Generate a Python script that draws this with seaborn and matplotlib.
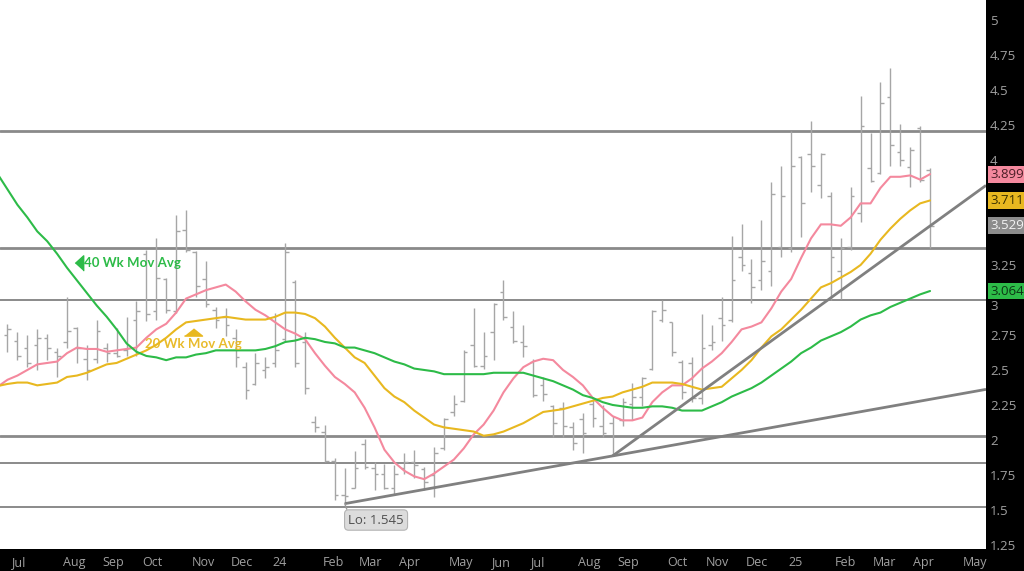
import numpy as np
import pandas as pd
import matplotlib
matplotlib.use("Agg")
import matplotlib.pyplot as plt
import seaborn as sns
from matplotlib import font_manager

# ---- weekly natural gas bars (week index 0 = week of 2023-06-26) ----
opens = [2.75, 2.71, 2.66, 2.68, 2.73, 2.63, 2.70, 2.80, 2.58, 2.58,
         2.66, 2.62, 2.64, 2.86, 3.33, 2.92, 3.15, 2.92, 3.50, 3.34,
         3.15, 2.93, 2.88, 2.73, 2.52, 2.40, 2.50, 2.55, 2.72, 3.13,
         2.70, 2.13, 2.06, 1.85, 1.61, 1.66, 1.97, 1.80, 1.76, 1.66,
         1.80, 1.84, 1.79, 1.75, 1.94, 2.20, 2.28, 2.68, 2.53, 2.77,
         3.06, 2.81, 2.70, 2.56, 2.39, 2.24, 2.23, 2.09, 2.15, 2.26,
         2.10, 2.12, 2.14, 2.26, 2.31, 2.51, 2.86, 2.84, 2.56, 2.55,
         2.30, 2.68, 2.87, 2.86, 3.31, 3.19, 3.14, 3.21, 3.38, 3.37,
         4.02, 4.04, 3.82, 3.74, 3.21, 3.38, 3.62, 3.94, 3.91, 4.45,
         4.06, 3.95, 4.23, 3.93]
highs = [2.83, 2.77, 2.75, 2.79, 2.76, 2.66, 3.02, 2.81, 2.68, 2.86,
         2.69, 2.80, 2.88, 2.99, 3.36, 3.44, 3.16, 3.61, 3.64, 3.35,
         3.28, 2.95, 2.94, 2.79, 2.56, 2.62, 2.59, 2.91, 3.41, 3.14,
         2.77, 2.17, 2.11, 1.87, 1.80, 1.92, 2.01, 1.84, 1.83, 1.82,
         1.91, 1.93, 1.81, 1.95, 2.16, 2.32, 2.64, 2.94, 2.77, 2.98,
         3.14, 2.92, 2.82, 2.58, 2.45, 2.25, 2.27, 2.13, 2.19, 2.31,
         2.25, 2.17, 2.30, 2.41, 2.45, 2.93, 3.00, 2.84, 2.57, 2.59,
         2.90, 2.82, 3.02, 3.46, 3.54, 3.29, 3.57, 3.84, 3.96, 4.21,
         4.03, 4.28, 4.05, 3.77, 3.44, 3.81, 4.46, 4.19, 4.56, 4.66,
         4.26, 4.09, 4.24, 3.94]
lows = [2.63, 2.57, 2.52, 2.50, 2.57, 2.45, 2.66, 2.55, 2.43, 2.55,
        2.56, 2.59, 2.60, 2.60, 2.85, 2.86, 2.91, 2.91, 3.34, 3.02,
        2.95, 2.80, 2.74, 2.52, 2.29, 2.39, 2.44, 2.52, 2.70, 2.52,
        2.33, 2.06, 1.84, 1.57, 1.545, 1.66, 1.79, 1.64, 1.65, 1.61,
        1.76, 1.73, 1.64, 1.59, 1.93, 2.17, 2.27, 2.52, 2.51, 2.57,
        2.86, 2.69, 2.59, 2.31, 2.28, 2.02, 2.02, 1.93, 1.91, 2.09,
        2.02, 1.886, 2.10, 2.14, 2.24, 2.50, 2.84, 2.60, 2.29, 2.27,
        2.26, 2.64, 2.71, 2.84, 3.21, 2.98, 3.07, 3.10, 3.31, 3.34,
        3.45, 3.77, 3.73, 3.00, 3.01, 3.36, 3.56, 3.84, 3.90, 3.96,
        3.96, 3.81, 3.84, 3.37]
closes = [2.79, 2.60, 2.55, 2.73, 2.66, 2.60, 2.78, 2.66, 2.50, 2.78,
          2.62, 2.60, 2.66, 2.92, 2.90, 3.16, 2.93, 3.49, 3.36, 3.10,
          2.97, 2.86, 2.82, 2.59, 2.36, 2.55, 2.52, 2.64, 3.34, 2.55,
          2.37, 2.09, 1.85, 1.61, 1.60, 1.80, 1.81, 1.76, 1.66, 1.76,
          1.84, 1.82, 1.70, 1.91, 2.15, 2.26, 2.63, 2.53, 2.60, 2.97,
          2.88, 2.71, 2.67, 2.32, 2.33, 2.12, 2.10, 1.98, 2.05, 2.16,
          2.05, 1.90, 2.27, 2.31, 2.44, 2.92, 2.93, 2.63, 2.34, 2.30,
          2.66, 2.70, 2.82, 3.14, 3.25, 3.09, 3.28, 3.76, 3.74, 3.96,
          3.69, 3.96, 4.04, 3.31, 3.37, 3.74, 4.24, 3.85, 4.41, 4.11,
          4.00, 4.07, 3.86, 3.53]

# moving averages (first value belongs to the week before the first bar)
ma_short = [2.38,
            2.43, 2.46, 2.50, 2.54, 2.55, 2.56, 2.62, 2.66, 2.65, 2.65,
            2.63, 2.64, 2.65, 2.66, 2.73, 2.79, 2.83, 2.91, 3.01, 3.04,
            3.07, 3.09, 3.11, 3.06, 2.99, 2.93, 2.89, 2.84, 2.79, 2.76,
            2.72, 2.62, 2.53, 2.45, 2.40, 2.34, 2.23, 2.09, 1.93, 1.84,
            1.78, 1.74, 1.72, 1.76, 1.81, 1.86, 1.94, 2.04, 2.11, 2.21,
            2.34, 2.44, 2.52, 2.56, 2.58, 2.57, 2.50, 2.45, 2.39, 2.30,
            2.23, 2.17, 2.14, 2.14, 2.16, 2.27, 2.34, 2.39, 2.39, 2.44,
            2.51, 2.56, 2.62, 2.70, 2.79, 2.81, 2.84, 2.94, 3.06, 3.15,
            3.30, 3.44, 3.54, 3.54, 3.53, 3.59, 3.69, 3.69, 3.80, 3.88,
            3.88, 3.89, 3.86, 3.899]
ma_20 = [2.385,
         2.40, 2.41, 2.41, 2.39, 2.40, 2.41, 2.45, 2.46, 2.48, 2.51,
         2.54, 2.55, 2.58, 2.61, 2.64, 2.68, 2.73, 2.79, 2.84, 2.85,
         2.86, 2.87, 2.88, 2.87, 2.86, 2.86, 2.86, 2.88, 2.91, 2.91,
         2.90, 2.87, 2.81, 2.73, 2.66, 2.59, 2.55, 2.46, 2.37, 2.31,
         2.27, 2.21, 2.16, 2.11, 2.09, 2.08, 2.07, 2.06, 2.03, 2.04,
         2.06, 2.09, 2.12, 2.16, 2.20, 2.21, 2.22, 2.24, 2.26, 2.28,
         2.30, 2.31, 2.34, 2.36, 2.38, 2.41, 2.41, 2.41, 2.40, 2.38,
         2.36, 2.37, 2.38, 2.44, 2.50, 2.57, 2.66, 2.74, 2.79, 2.86,
         2.93, 3.01, 3.09, 3.12, 3.16, 3.20, 3.25, 3.33, 3.43, 3.51,
         3.58, 3.64, 3.69, 3.711]
ma_40 = [3.90,
         3.79, 3.68, 3.59, 3.49, 3.42, 3.33, 3.23, 3.14, 3.05, 2.96,
         2.88, 2.79, 2.69, 2.63, 2.60, 2.59, 2.57, 2.59, 2.59, 2.61,
         2.62, 2.64, 2.64, 2.64, 2.64, 2.64, 2.65, 2.67, 2.70, 2.71,
         2.73, 2.72, 2.70, 2.69, 2.66, 2.66, 2.64, 2.62, 2.59, 2.56,
         2.54, 2.51, 2.50, 2.49, 2.47, 2.47, 2.47, 2.47, 2.47, 2.48,
         2.48, 2.48, 2.48, 2.46, 2.44, 2.42, 2.39, 2.36, 2.32, 2.30,
         2.27, 2.25, 2.24, 2.23, 2.23, 2.24, 2.24, 2.23, 2.21, 2.21,
         2.21, 2.24, 2.27, 2.31, 2.34, 2.37, 2.41, 2.46, 2.51, 2.56,
         2.62, 2.66, 2.71, 2.74, 2.77, 2.81, 2.86, 2.89, 2.91, 2.95,
         2.98, 3.01, 3.04, 3.064]

# month labels along the week axis
month_labels = ["Jul", "Aug", "Sep", "Oct", "Nov", "Dec", "24", "Feb", "Mar",
                "Apr", "May", "Jun", "Jul", "Aug", "Sep", "Oct", "Nov", "Dec",
                "25", "Feb", "Mar", "Apr", "May"]
month_ticks = [1.06, 6.70, 10.64, 14.57, 19.71, 23.64, 27.47, 32.81, 36.64,
               40.47, 45.72, 49.65, 53.38, 58.62, 62.55, 67.49, 71.52, 75.55,
               79.49, 84.43, 88.36, 92.29, 97.53]
# price scale labels (3.5 and 3.75 sit under the value tags)
price_ticks = [1.25, 1.5, 1.75, 2.0, 2.25, 2.5, 2.75, 3.0, 3.25,
               4.0, 4.25, 4.5, 4.75, 5.0]

# support / resistance levels
levels_heavy = [4.21, 3.37, 2.03]
levels_light = [3.0, 1.835, 1.523]

# trendline anchors: (week, price)
trend_low = [(34, 1.545), (61, 1.886)]
trend_steep = [(61, 1.886), (93, 3.529)]

low_label = "Lo: 1.545"
low_week, low_price = 34, 1.545

# ---- styling ----
sns.set_style("white")
available = {f.name for f in font_manager.fontManager.ttflist}
narrow = "Liberation Sans Narrow" if "Liberation Sans Narrow" in available else "Open Sans"
plt.rcParams["font.family"] = ["Open Sans", "DejaVu Sans"]

C_BAR = "#a6a6a6"
C_LEVEL = "#8a8a8a"
C_PINK = "#f4899e"
C_GOLD = "#e8b820"
C_GREEN = "#2dbb48"
C_AXTXT = "#a0a0a0"

W, H = 1024, 571
fig = plt.figure(figsize=(W / 100, H / 100), dpi=100, facecolor="black")
ax = fig.add_axes([0, 22 / H, 986 / W, 549 / H])
ax.set_facecolor("white")

weeks = np.arange(len(closes))
ma_weeks = np.arange(-1, len(closes))
xmin, xmax = -0.756, 98.64
ax.set_xlim(xmin, xmax)
ax.set_ylim(1.221, 5.143)

# horizontal levels
for lv in levels_heavy:
    ax.axhline(lv, color=C_LEVEL, lw=2.0, zorder=1)
for lv in levels_light:
    ax.axhline(lv, color=C_LEVEL, lw=1.4, zorder=1)

# OHLC bars
tick = 0.36
ax.vlines(weeks, lows, highs, color=C_BAR, lw=1.0, zorder=2)
ax.hlines(opens, weeks - tick, weeks, color=C_BAR, lw=1.0, zorder=2)
ax.hlines(closes, weeks, weeks + tick, color=C_BAR, lw=1.0, zorder=2)

# moving averages through seaborn
ma_df = pd.DataFrame({"week": ma_weeks, "short": ma_short, "20 Wk": ma_20, "40 Wk": ma_40})
ma_long = ma_df.melt(id_vars="week", var_name="series", value_name="price")
sns.lineplot(data=ma_long, x="week", y="price", hue="series",
             palette={"short": C_PINK, "20 Wk": C_GOLD, "40 Wk": C_GREEN},
             linewidth=1.5, legend=False, ax=ax, zorder=3)

# trendlines extended to the right edge
for (x0, y0), (x1, y1) in (trend_low, trend_steep):
    slope = (y1 - y0) / (x1 - x0)
    ax.plot([x0, xmax], [y0, y0 + slope * (xmax - x0)], color="#808080",
            lw=2.0, zorder=4, solid_capstyle="butt")

# moving-average captions
left_tri = [(-0.55, 0), (0.55, 1), (0.55, -1)]
ax.plot([7.2], [3.262], marker=left_tri, ms=11, color=C_GREEN, zorder=5)
ax.text(7.75, 3.262, "40 Wk Mov Avg", color=C_GREEN, fontsize=9.5,
        fontweight="bold", family=["Lato", "DejaVu Sans"], va="center", ha="left", zorder=5)
up_tri = [(-1, -0.4), (1, -0.4), (0, 0.4)]
ax.plot([18.7], [2.773], marker=up_tri, ms=13, color=C_GOLD, zorder=5)
ax.text(13.85, 2.687, "20 Wk Mov Avg", color=C_GOLD, fontsize=9.5,
        fontweight="bold", family=["Lato", "DejaVu Sans"], va="center", ha="left",
        alpha=0.95, zorder=5)

# low callout
ax.plot([low_week, low_week + 0.2], [low_price, low_price - 0.04], color="#9a9a9a", lw=1, zorder=5)
ax.text(low_week + 0.35, 1.428, low_label, fontsize=9.5, color="#505050",
        va="center", ha="left", zorder=6,
        bbox=dict(boxstyle="round,pad=0.28,rounding_size=0.3", fc="#dcdcdc", ec="#b4b4b4", lw=0.8))

# axes cosmetics
for s in ax.spines.values():
    s.set_visible(False)
ax.set_xlabel("")
ax.set_ylabel("")
ax.set_xticks(month_ticks)
ax.set_xticklabels(month_labels)
ax.yaxis.tick_right()
ax.set_yticks(price_ticks)
ax.set_yticklabels([f"{v:g}" for v in price_ticks])
ax.tick_params(axis="x", length=0, pad=5, colors=C_AXTXT, labelsize=9)
ax.tick_params(axis="y", length=0, pad=3, colors=C_AXTXT, labelsize=9.5)
for lab in ax.get_xticklabels():
    lab.set_family([narrow, "DejaVu Sans"])
for lab in ax.get_yticklabels():
    if lab.get_text() == "3":
        lab.set_va("top")

# last-value tags on the price scale
tags = [(ma_short[-1], C_PINK, "#4a1e26"),
        (ma_20[-1], C_GOLD, "#3a3000"),
        (trend_steep[1][1], "#8c8c8c", "#f2f2f2"),
        (ma_40[-1], C_GREEN, "#0d3514")]
for val, bg, fg in tags:
    ax.annotate(f"{val:.3f}", xy=(1.0, val), xycoords=("axes fraction", "data"),
                xytext=(3, 0), textcoords="offset points", fontsize=9.5, color=fg,
                va="center", ha="left", annotation_clip=False, zorder=10,
                bbox=dict(boxstyle="square,pad=0.15", fc=bg, ec="none"))

fig.savefig("out.png", dpi=100, facecolor="black")
